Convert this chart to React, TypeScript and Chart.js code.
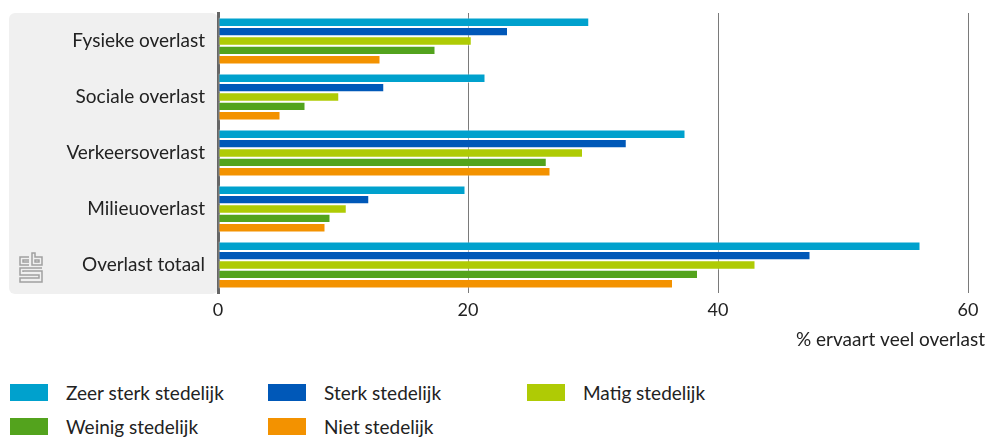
import React, { useEffect, useRef } from "react";
import { Chart, registerables } from "chart.js";

Chart.register(...registerables);

const categories = ["Fysieke overlast", "Sociale overlast", "Verkeersoverlast", "Milieuoverlast", "Overlast totaal"];
const seriesNames = ["Zeer sterk stedelijk", "Sterk stedelijk", "Matig stedelijk", "Weinig stedelijk", "Niet stedelijk"];
const zeerSterk = [29.7, 21.4, 37.4, 19.8, 56.2];
const sterk = [23.2, 13.3, 32.7, 12.1, 47.4];
const matig = [20.3, 9.7, 29.2, 10.3, 43.0];
const weinig = [17.4, 7.0, 26.3, 9.0, 38.4];
const niet = [13.0, 5.0, 26.6, 8.6, 36.4];
const seriesColors = ["#00a1cd", "#0058b8", "#afcb05", "#53a31d", "#f39200"];
const xTitle = "% ervaart veel overlast";

const FONT = "Lato, 'Open Sans', sans-serif";
const TEXT = "#222222";

const legendPos = [
  { x: 10, y: 384 },
  { x: 268, y: 384 },
  { x: 527, y: 384 },
  { x: 10, y: 418 },
  { x: 268, y: 418 },
];

export default function App() {
  const ref = useRef<HTMLCanvasElement | null>(null);

  useEffect(() => {
    document.body.style.margin = "0";
    const canvas = ref.current;
    if (!canvas) return;
    const values = [zeerSterk, sterk, matig, weinig, niet];

    const panelPlugin = {
      id: "panel",
      beforeDraw(chart: any) {
        const { ctx, chartArea } = chart;
        ctx.save();
        ctx.fillStyle = "#f0f0f0";
        ctx.beginPath();
        (ctx as any).roundRect(9, chartArea.top, chartArea.left - 9, chartArea.bottom - chartArea.top + 1, 6);
        ctx.fill();
        // simple cbs logo
        ctx.strokeStyle = "#a0a0a0";
        ctx.lineWidth = 1.5;
        const lx = 19, ly = 253;
        ctx.beginPath();
        ctx.moveTo(lx + 10, ly + 4); ctx.lineTo(lx + 1, ly + 4); ctx.lineTo(lx + 1, ly + 12); ctx.lineTo(lx + 10, ly + 12);
        ctx.moveTo(lx + 10, ly + 7); ctx.lineTo(lx + 4, ly + 7); ctx.lineTo(lx + 4, ly + 9); ctx.lineTo(lx + 10, ly + 9);
        ctx.moveTo(lx + 13, ly + 0); ctx.lineTo(lx + 13, ly + 12); ctx.lineTo(lx + 23, ly + 12); ctx.lineTo(lx + 23, ly + 4); ctx.lineTo(lx + 16, ly + 4); ctx.lineTo(lx + 16, ly + 0); ctx.closePath();
        ctx.rect(lx + 16, ly + 7, 4, 2);
        ctx.moveTo(lx + 23, ly + 15); ctx.lineTo(lx + 1, ly + 15); ctx.lineTo(lx + 1, ly + 22); ctx.lineTo(lx + 20, ly + 22); ctx.lineTo(lx + 20, ly + 25); ctx.lineTo(lx + 1, ly + 25); ctx.lineTo(lx + 1, ly + 29); ctx.lineTo(lx + 23, ly + 29); ctx.lineTo(lx + 23, ly + 18); ctx.lineTo(lx + 4, ly + 18); ctx.lineTo(lx + 4, ly + 19);
        ctx.stroke();
        ctx.restore();
      },
      afterDraw(chart: any) {
        const { ctx } = chart;
        ctx.save();
        ctx.font = `19px ${FONT}`;
        ctx.fillStyle = TEXT;
        ctx.textAlign = "right";
        ctx.textBaseline = "middle";
        ctx.fillText(xTitle, 985, 340);
        ctx.restore();
      },
    };

    const chart = new Chart(canvas, {
      type: "bar",
      data: {
        labels: categories,
        datasets: seriesNames.map((name, i) => ({
          label: name,
          data: values[i],
          backgroundColor: seriesColors[i],
          borderColor: "rgba(255,255,255,0.45)",
          borderWidth: 1,
          borderSkipped: false,
          categoryPercentage: 0.84,
          barPercentage: 1,
        })),
      },
      options: {
        indexAxis: "y",
        responsive: false,
        animation: false,
        devicePixelRatio: 1,
        layout: { padding: { left: 10, top: 13, right: 19, bottom: 0 } },
        plugins: {
          legend: { display: false },
          tooltip: { enabled: false },
          title: { display: false },
        },
        scales: {
          x: {
            min: 0,
            max: 60,
            ticks: { stepSize: 20, color: TEXT, font: { family: FONT, size: 18 }, padding: 6 },
            grid: { color: "#7a7a7a", lineWidth: 1, drawTicks: false },
            border: { display: false },
            afterFit(scale: any) { scale.height = 67; scale.paddingLeft = 0; scale.paddingRight = 0; },
          },
          y: {
            ticks: { color: TEXT, font: { family: FONT, size: 19 }, padding: 13 },
            grid: { display: false, drawTicks: false },
            border: { display: true, color: "#666666", width: 3 },
            afterFit(scale: any) { scale.width = 208; scale.paddingTop = 0; scale.paddingBottom = 0; },
          },
        },
      },
      plugins: [panelPlugin],
    } as any);
    return () => chart.destroy();
  }, []);

  return (
    <div style={{ position: "relative", width: 987, height: 437, fontFamily: FONT }}>
      <canvas ref={ref} width={987} height={360} style={{ display: "block", width: 987, height: 360 }} />
      {seriesNames.map((name, i) => (
        <div key={name} style={{ position: "absolute", left: legendPos[i].x, top: legendPos[i].y, height: 17, display: "flex", alignItems: "center" }}>
          <div style={{ width: 38, height: 17, background: seriesColors[i] }} />
          <span style={{ marginLeft: 18, fontSize: 19, color: TEXT, whiteSpace: "nowrap", lineHeight: "17px" }}>{name}</span>
        </div>
      ))}
    </div>
  );
}
